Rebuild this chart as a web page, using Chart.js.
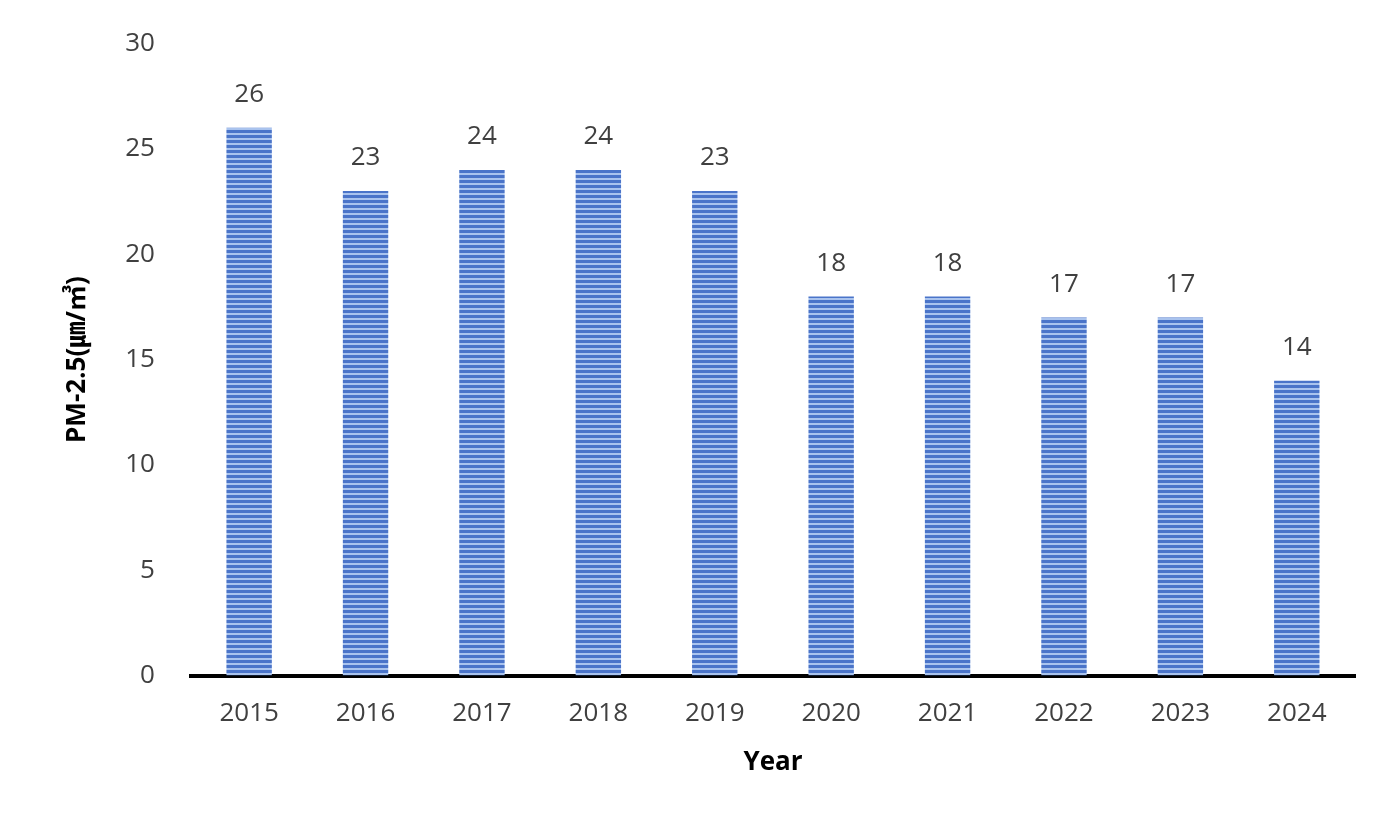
<!DOCTYPE html>
<html>
<head>
<meta charset="utf-8">
<script src="https://cdn.jsdelivr.net/npm/chart.js@4"></script>
<style>
  body { margin: 0; background: #fff; }
  #wrap { width: 1400px; height: 840px; }
</style>
</head>
<body>
<div id="wrap"><canvas id="c"></canvas></div>
<script>
const years = ["2015", "2016", "2017", "2018", "2019", "2020", "2021", "2022", "2023", "2024"];
const pm25 = [26, 23, 24, 24, 23, 18, 18, 17, 17, 14];
const yTicks = [0, 5, 10, 15, 20, 25, 30];

// horizontal stripe fill like the original
function stripes() {
    let p = document.createElement("canvas");
    p.width = 4; p.height = 5;
    let g = p.getContext("2d");
    g.fillStyle = "#a9c3ee";
    g.fillRect(0, 0, 4, 5);
    g.fillStyle = "#4a74c9";
    g.fillRect(0, 0, 4, 3);
    return g.createPattern(p, "repeat");
}

const valueLabels = {
    id: "valueLabels",
    afterDatasetsDraw(chart) {
        let ctx = chart.ctx;
        ctx.save();
        ctx.font = "26px 'Open Sans', sans-serif";
        ctx.fillStyle = "#404040";
        ctx.textAlign = "center";
        ctx.textBaseline = "bottom";
        chart.getDatasetMeta(0).data.forEach((bar, i) => {
            ctx.fillText(pm25[i], bar.x, bar.y - 20);
        });
        ctx.restore();
    }
};

new Chart(document.getElementById("c"), {
    type: "bar",
    data: {
        labels: years,
        datasets: [{
            data: pm25,
            backgroundColor: stripes(),
            barPercentage: 0.78,
            categoryPercentage: 0.5
        }]
    },
    options: {
        responsive: true,
        maintainAspectRatio: false,
        animation: false,
        layout: { padding: { top: 30, right: 45, left: 58, bottom: 58 } },
        plugins: { legend: { display: false }, tooltip: { enabled: false } },
        scales: {
            x: {
                grid: { display: false },
                border: { color: "#000", width: 4 },
                ticks: { color: "#404040", font: { size: 26, family: "'Open Sans', sans-serif" }, padding: 14 },
                title: { display: true, text: "Year", color: "#000", font: { size: 26, weight: "bold", family: "'Open Sans', sans-serif" } }
            },
            y: {
                min: 0, max: 30,
                afterBuildTicks(axis) { axis.ticks = yTicks.map(v => ({ value: v })); },
                grid: { display: false },
                border: { display: false },
                ticks: { color: "#404040", font: { size: 26, family: "'Open Sans', sans-serif" }, padding: 28 },
                title: { display: true, text: "PM-2.5(㎛/㎥)", color: "#000", font: { size: 26, weight: "bold", family: "'Open Sans', 'Noto Sans CJK KR', sans-serif" } }
            }
        }
    },
    plugins: [valueLabels]
});
</script>
</body>
</html>
